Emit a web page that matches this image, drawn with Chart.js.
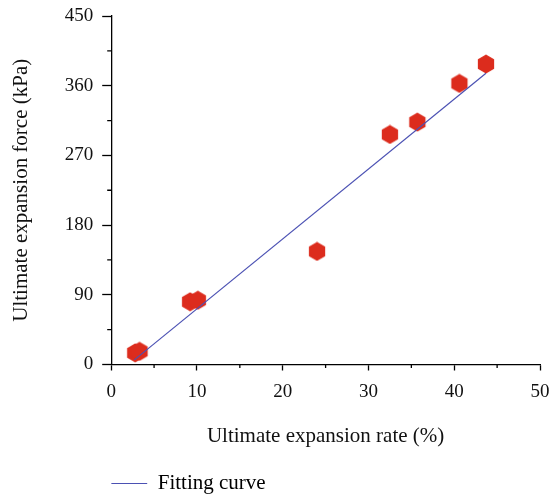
<!DOCTYPE html>
<html>
<head>
<meta charset="utf-8">
<script src="https://cdn.jsdelivr.net/npm/chart.js@4"></script>
<style>
  html, body { margin: 0; padding: 0; background: #fff; }
  #wrap { width: 551px; height: 499px; }
</style>
</head>
<body>
<div id="wrap"><canvas id="chart" width="551" height="499"></canvas></div>
<script>
// measured points (rate %, force kPa)
const rateVals = [2.8, 3.3, 9.2, 10.1, 24.0, 32.5, 35.7, 40.6, 43.7]
const forceVals = [15, 17, 81, 83, 146, 297, 313, 363, 388]
// fitting curve end points
const fitX = [2.7, 43.7]
const fitY = [6, 376]
// minor tick values
const xMinor = [5, 15, 25, 35, 45]
const yMinor = [45, 135, 225, 315, 405]

const serif = "'Liberation Serif', 'Times New Roman', serif"

// hexagon marker
let hex = document.createElement('canvas')
hex.width = 20
hex.height = 20
let hc = hex.getContext('2d')
hc.fillStyle = '#dc2c1d'
hc.beginPath()
for (let i = 0; i < 6; i++) {
    let a = Math.PI / 2 + i * Math.PI / 3
    let px = 10 + 9.4 * Math.cos(a)
    let py = 10 - 9.4 * Math.sin(a)
    if (i == 0) hc.moveTo(px, py); else hc.lineTo(px, py)
}
hc.closePath()
hc.fill()

let points = rateVals.map((x, i) => ({x: x, y: forceVals[i]}))
let fit = fitX.map((x, i) => ({x: x, y: fitY[i]}))

// short minor ticks, drawn through the scales
const minorTicks = {
    id: 'minorTicks',
    afterDraw(chart) {
        const ctx = chart.ctx
        const xs = chart.scales.x, ys = chart.scales.y
        ctx.save()
        ctx.strokeStyle = '#000'
        ctx.lineWidth = 1.3
        ctx.beginPath()
        xMinor.forEach(v => {
            let px = xs.getPixelForValue(v)
            ctx.moveTo(px, xs.top)
            ctx.lineTo(px, xs.top + 3.5)
        })
        yMinor.forEach(v => {
            let py = ys.getPixelForValue(v)
            ctx.moveTo(ys.right, py)
            ctx.lineTo(ys.right - 4, py)
        })
        ctx.stroke()
        ctx.restore()
    }
}

new Chart(document.getElementById('chart'), {
    type: 'scatter',
    data: {
        datasets: [{
            label: 'Data',
            data: points,
            pointStyle: hex,
            pointRadius: 10,
            order: 2
        }, {
            type: 'line',
            label: 'Fitting curve',
            data: fit,
            borderColor: '#4b51b3',
            borderWidth: 1.2,
            pointRadius: 0,
            fill: false,
            order: 1
        }]
    },
    options: {
        responsive: false,
        animation: false,
        layout: { padding: { left: 9, right: 10, top: 16, bottom: -5 } },
        scales: {
            x: {
                type: 'linear',
                min: 0, max: 50,
                afterFit: s => { s.paddingLeft = 0; s.paddingRight = 0 },
                grid: { drawOnChartArea: false, tickLength: 6, tickColor: '#000', tickWidth: 1.3 },
                border: { color: '#000', width: 1.3 },
                ticks: {
                    stepSize: 10,
                    autoSkip: false,
                    maxRotation: 0,
                    color: '#111',
                    font: { family: serif, size: 19 },
                    padding: 10
                },
                title: {
                    display: true,
                    text: 'Ultimate expansion rate (%)',
                    color: '#111',
                    font: { family: serif, size: 21 },
                    padding: { top: 11, bottom: 23.5 }
                }
            },
            y: {
                min: 0, max: 450,
                afterFit: s => { s.paddingTop = 0; s.paddingBottom = 0 },
                grid: { drawOnChartArea: false, tickLength: 9, tickColor: '#000', tickWidth: 1.3 },
                border: { color: '#000', width: 1.3 },
                ticks: {
                    stepSize: 90,
                    autoSkip: false,
                    color: '#111',
                    font: { family: serif, size: 19 },
                    padding: 9
                },
                title: {
                    display: true,
                    text: 'Ultimate expansion force (kPa)',
                    color: '#111',
                    font: { family: serif, size: 21 },
                    padding: { top: 0, bottom: 21.5 }
                }
            }
        },
        plugins: {
            legend: {
                position: 'bottom',
                align: 'start',
                fullSize: false,
                labels: {
                    color: '#111',
                    font: { family: serif, size: 21 },
                    boxWidth: 36,
                    boxHeight: 1,
                    padding: 0,
                    generateLabels: chart => [{
                        text: 'Fitting curve',
                        fillStyle: '#4b51b3',
                        strokeStyle: '#4b51b3',
                        lineWidth: 0,
                        datasetIndex: 1
                    }]
                }
            },
            tooltip: { enabled: false }
        }
    },
    plugins: [minorTicks]
});
</script>
</body>
</html>
